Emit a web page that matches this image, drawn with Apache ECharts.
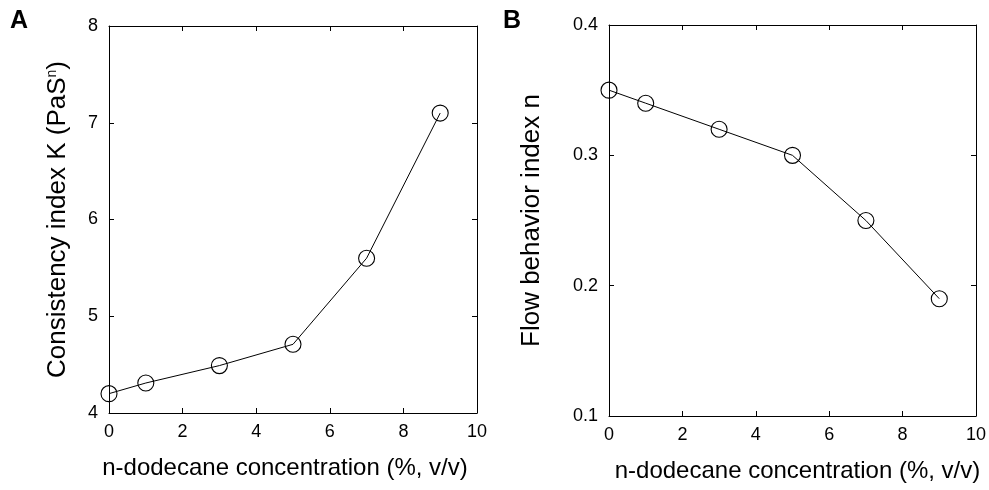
<!DOCTYPE html>
<html>
<head>
<meta charset="utf-8">
<script src="https://cdn.jsdelivr.net/npm/echarts@6/dist/echarts.min.js"></script>
<style>html,body{margin:0;padding:0;background:#fff}#c{width:989px;height:490px}</style>
</head>
<body>
<div id="c"></div>
<script>
var concA = [0, 1, 3, 5, 7, 9];
var kValues = [4.2, 4.31, 4.49, 4.71, 5.6, 7.1];
var concB = [0, 1, 3, 5, 7, 9];
var nValues = [0.35, 0.34, 0.32, 0.30, 0.25, 0.19];
var xTitle = 'n-dodecane concentration (%, v/v)';

var FONT = '"Liberation Sans", Arial, Helvetica, sans-serif';
var chart = echarts.init(document.getElementById('c'), null, {renderer: 'canvas'});

function pairs(xs, ys) { return xs.map(function (x, i) { return [x, ys[i]]; }); }

var lineStyle = {color: '#000', width: 1};
function xAx(grid, pos, showLabel, name, pad) {
  return {
    type: 'value', gridIndex: grid, position: pos, min: 0, max: 10, interval: 2,
    axisLine: {show: true, onZero: false, lineStyle: lineStyle},
    axisTick: {show: true, inside: true, length: 5, lineStyle: lineStyle},
    axisLabel: {show: showLabel, color: '#000', fontSize: 18, fontFamily: FONT, margin: 10},
    splitLine: {show: false},
    name: name || '', nameLocation: 'middle', nameGap: 43,
    nameTextStyle: {color: '#000', fontSize: 24, fontFamily: FONT, padding: pad || 0}
  };
}
function yAx(grid, pos, min, max, interval, showLabel, name, gap, rich) {
  return {
    type: 'value', gridIndex: grid, position: pos, min: min, max: max, interval: interval,
    axisLine: {show: true, onZero: false, lineStyle: lineStyle},
    axisTick: {show: true, inside: true, length: 5, lineStyle: lineStyle},
    axisLabel: {show: showLabel, color: '#000', fontSize: 18, fontFamily: FONT, margin: 11},
    splitLine: {show: false},
    name: name || '', nameLocation: 'middle', nameGap: gap || 0,
    nameTextStyle: {color: '#000', fontSize: 26, fontFamily: FONT, rich: rich || {}}
  };
}

var richA = {
  b: {fontSize: 26, fontFamily: FONT, color: '#000'},
  sup: {fontSize: 14, fontFamily: FONT, color: '#000', verticalAlign: 'top', lineHeight: 26}
};

var sym = {color: 'transparent', borderColor: '#000', borderWidth: 1.1};

chart.setOption({
  animation: false,
  backgroundColor: '#fff',
  graphic: [
    {type: 'text', left: 10, top: 9, style: {text: 'A', font: 'bold 25px ' + FONT, fill: '#000'}},
    {type: 'text', left: 503, top: 9, style: {text: 'B', font: 'bold 25px ' + FONT, fill: '#000'}}
  ],
  grid: [
    {left: 109, top: 26, width: 368, height: 387, show: false},
    {left: 609, top: 25, width: 367, height: 391, show: false}
  ],
  xAxis: [
    xAx(0, 'bottom', true, xTitle, [0, 16, 0, 0]),
    xAx(0, 'top', false),
    xAx(1, 'bottom', true, xTitle, [0, 0, 0, 10]),
    xAx(1, 'top', false)
  ],
  yAxis: [
    yAx(0, 'left', 4, 8, 1, true, '{b|Consistency index K (PaS}{sup|n}{b|)}', 38, richA),
    yAx(0, 'right', 4, 8, 1, false),
    yAx(1, 'left', 0.1, 0.4, 0.1, true, 'Flow behavior index n', 64),
    yAx(1, 'right', 0.1, 0.4, 0.1, false)
  ],
  series: [
    {type: 'line', xAxisIndex: 0, yAxisIndex: 0, data: pairs(concA, kValues),
     symbol: 'circle', symbolSize: 16, lineStyle: {color: '#000', width: 1}, itemStyle: sym, z: 3},
    {type: 'line', xAxisIndex: 2, yAxisIndex: 2, data: pairs(concB, nValues),
     symbol: 'circle', symbolSize: 16, lineStyle: {color: '#000', width: 1}, itemStyle: sym, z: 3}
  ]
});
</script>
</body>
</html>
